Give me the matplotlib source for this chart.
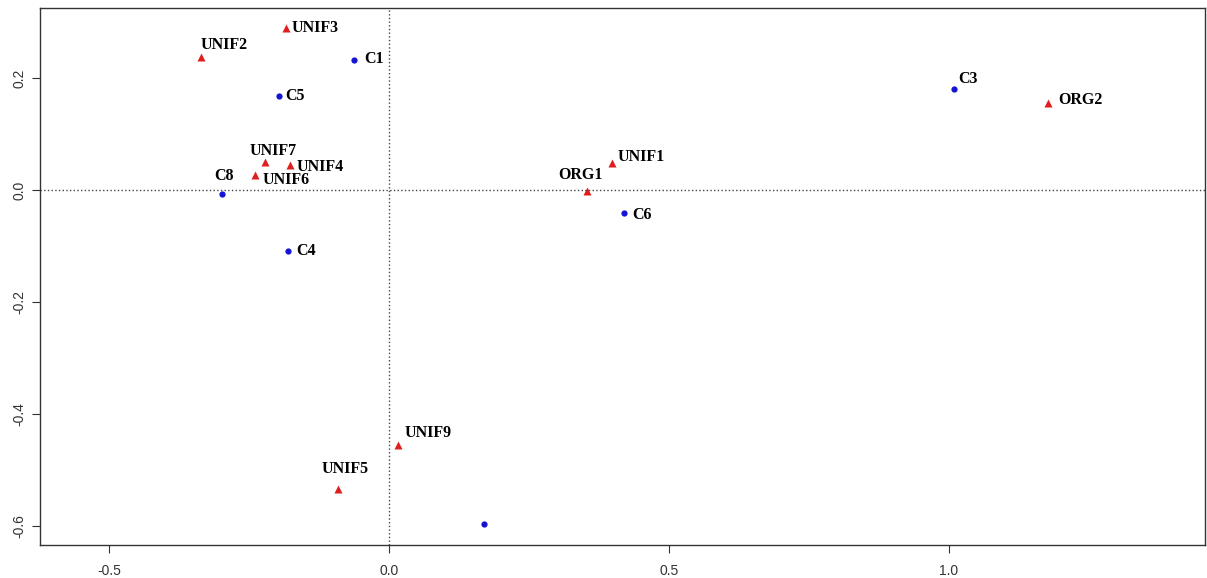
import numpy as np
import matplotlib.pyplot as plt

# coordinates of the points (dim 1, dim 2)
names = ["UNIF3", "UNIF2", "C1", "C5", "C3", "ORG2", "UNIF7", "UNIF4", "UNIF6",
         "C8", "UNIF1", "ORG1", "C6", "C4", "UNIF9", "UNIF5", ""]
xs = [-0.184, -0.336, -0.0625, -0.196, 1.009, 1.177, -0.221, -0.177, -0.239,
      -0.298, 0.398, 0.354, 0.420, -0.180, 0.016, -0.091, 0.170]
ys = [0.289, 0.2375, 0.232, 0.168, 0.180, 0.155, 0.050, 0.045, 0.027,
      -0.007, 0.048, -0.002, -0.041, -0.109, -0.455, -0.534, -0.596]
groups = ["tri", "tri", "dot", "dot", "dot", "tri", "tri", "tri", "tri",
          "dot", "tri", "tri", "dot", "dot", "tri", "tri", "dot"]

# label placement (pixel offset, horizontal alignment)
offsets = {
    "UNIF3": (6, 0, "left"), "UNIF2": (23, 12, "center"), "C1": (10, 1, "left"),
    "C5": (6, 0, "left"), "C3": (4, 10, "left"), "ORG2": (10, 3, "left"),
    "UNIF7": (8, 11, "center"), "UNIF4": (7, -2, "left"), "UNIF6": (7, -5, "left"),
    "C8": (2, 18, "center"), "UNIF1": (6, 6, "left"), "ORG1": (-7, 16, "center"),
    "C6": (8, -2, "left"), "C4": (8, 0, "left"), "UNIF9": (7, 12, "left"),
    "UNIF5": (7, 20, "center"),
}

fig = plt.figure(figsize=(12.07, 5.78), dpi=100)
ax = fig.add_axes([40 / 1207, 33 / 578, 1165 / 1207, 537 / 578])

xs = np.array(xs)
ys = np.array(ys)
g = np.array(groups)
ax.plot(xs[g == "dot"], ys[g == "dot"], "o", color="#1414d2", ms=4.5, mec="none")
ax.plot(xs[g == "tri"], ys[g == "tri"], "^", color="#e01e1e", ms=6, mec="none")

ax.axhline(0, color="#444444", ls=":", lw=1)
ax.axvline(0, color="#444444", ls=":", lw=1)

for n, x, y in zip(names, xs, ys):
    if n in offsets:
        dx, dy, ha = offsets[n]
        ax.annotate(n, (x, y), xytext=(dx, dy), textcoords="offset pixels",
                    ha=ha, va="center", fontsize=11.5, fontweight="bold",
                    family="Liberation Serif", color="black")

ax.set_xlim(-0.623, 1.457)
ax.set_ylim(-0.634, 0.325)
ax.set_xticks([-0.5, 0.0, 0.5, 1.0])
ax.set_yticks([-0.6, -0.4, -0.2, 0.0, 0.2])
ax.set_xticklabels(["-0.5", "0.0", "0.5", "1.0"])
ax.set_yticklabels(["-0.6", "-0.4", "-0.2", "0.0", "0.2"], rotation=90, va="center")
ax.tick_params(direction="out", length=6, color="#333333", labelcolor="#333333",
               labelsize=10)
ax.tick_params(axis="x", pad=8)
ax.tick_params(axis="y", pad=4)
for lab in ax.get_xticklabels() + ax.get_yticklabels():
    lab.set_family("Liberation Sans")
for s in ax.spines.values():
    s.set_color("#333333")
    s.set_linewidth(1)

fig.savefig("out.png", dpi=100)
